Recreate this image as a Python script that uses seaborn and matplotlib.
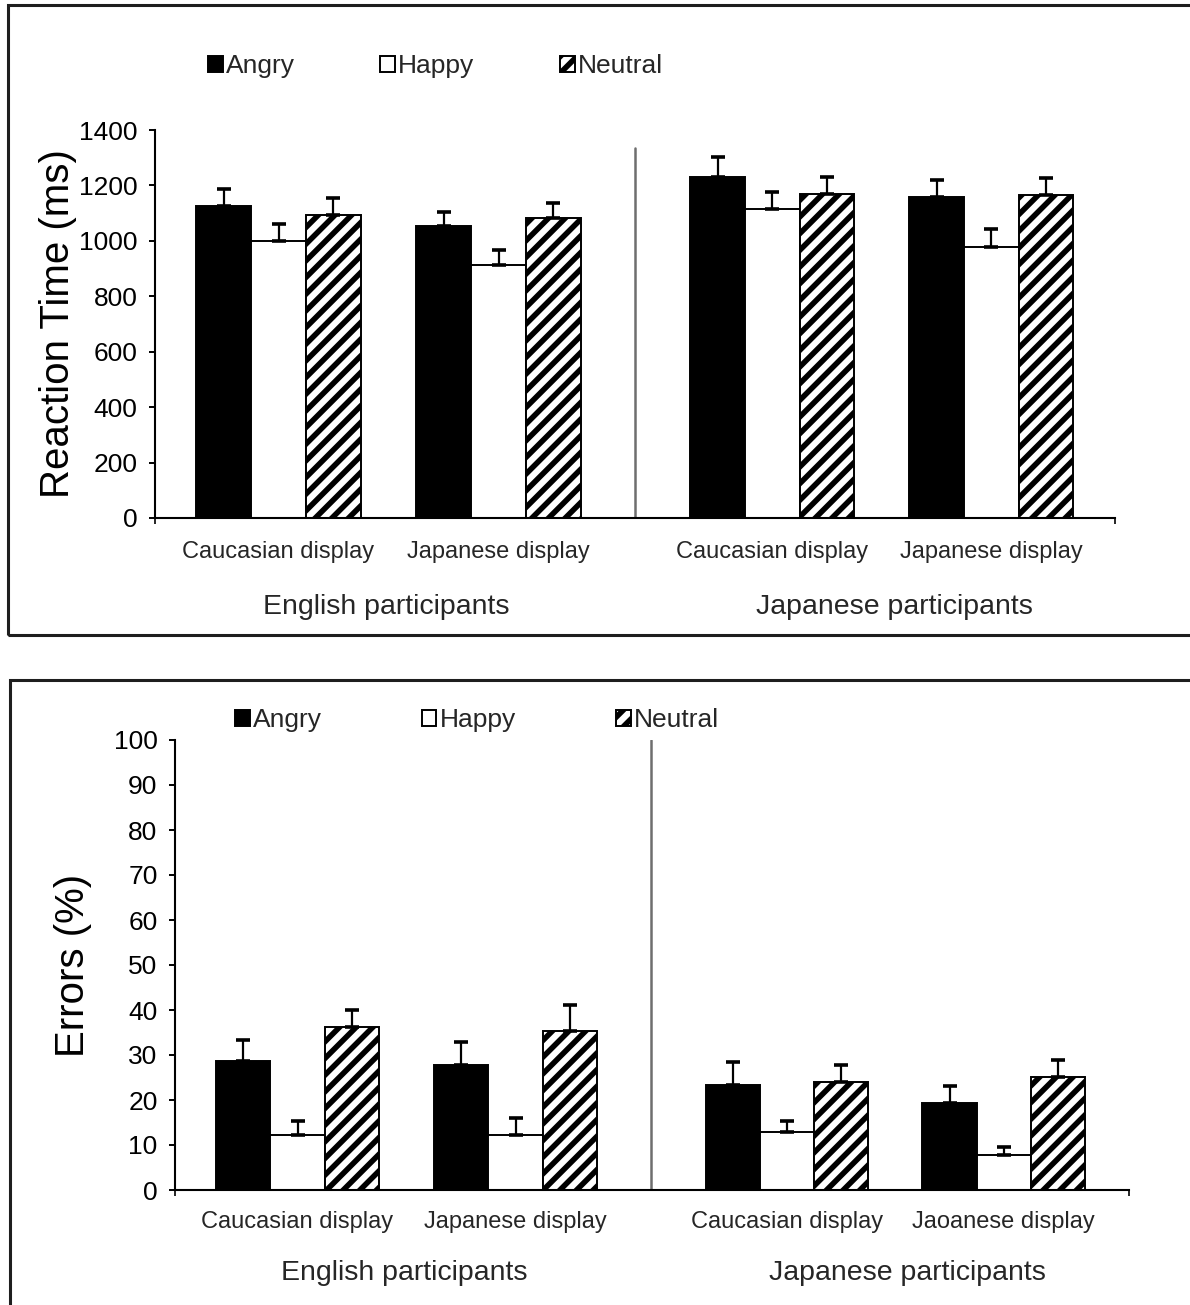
import numpy as np
import pandas as pd
import seaborn as sns
import matplotlib
matplotlib.use("Agg")
import matplotlib.pyplot as plt
from matplotlib import font_manager
from matplotlib.patches import Rectangle

# ---------------------------------------------------------------- data
emotions = ["Angry", "Happy", "Neutral"]
participant_groups = ["English participants", "Japanese participants"]
rt_displays = ["Caucasian display", "Japanese display", "Caucasian display", "Japanese display"]
err_displays = ["Caucasian display", "Japanese display", "Caucasian display", "Jaoanese display"]

# Reaction time (ms); order: Eng/Cauc, Eng/Jap, Jap/Cauc, Jap/Jap
rt_angry = [1127, 1052, 1232, 1158]
rt_happy = [998, 914, 1115, 978]
rt_neutral = [1094, 1084, 1168, 1167]
rt_se_angry = [60, 53, 72, 61]
rt_se_happy = [62, 53, 63, 63]
rt_se_neutral = [62, 52, 62, 61]

# Errors (%)
er_angry = [28.7, 27.8, 23.3, 19.4]
er_happy = [12.2, 12.2, 12.8, 7.7]
er_neutral = [36.2, 35.4, 24.1, 25.2]
er_se_angry = [4.7, 5.0, 5.1, 3.7]
er_se_happy = [3.2, 3.9, 2.6, 1.9]
er_se_neutral = [3.8, 5.8, 3.6, 3.7]

rt_ticks = [0, 200, 400, 600, 800, 1000, 1200, 1400]
er_ticks = [0, 10, 20, 30, 40, 50, 60, 70, 80, 90, 100]

# ---------------------------------------------------------------- layout
GROUP_X = [0.0, 1.0, 2.245, 3.24]          # cluster centres (wider gap between participant groups)
PARTICIPANT_X = [0.49, 2.80]
DIVIDER_X = (GROUP_X[1] + GROUP_X[2]) / 2
PALETTE = {"Angry": "black", "Happy": "white", "Neutral": "white"}

W, H = 1190, 1305
sns.set_style("ticks")


def pick_font(names):
    for n in names:
        try:
            font_manager.findfont(n, fallback_to_default=False)
            return n
        except Exception:
            continue
    return "DejaVu Sans"


NARROW = pick_font(["Liberation Sans Narrow", "Liberation Sans", "Arial"])
REGULAR = pick_font(["Liberation Sans", "Arial"])
plt.rcParams["font.family"] = [NARROW, "DejaVu Sans"]
plt.rcParams["hatch.linewidth"] = 4.0
plt.rcParams["hatch.color"] = "black"

fig = plt.figure(figsize=(W / 100, H / 100), dpi=100)


def frame_long(a, b, c, sa, sb, sc):
    rows = []
    for i in range(len(GROUP_X)):
        for e, vals, ses in zip(emotions, (a, b, c), (sa, sb, sc)):
            rows.append({"x": GROUP_X[i], "emotion": e, "value": vals[i], "se": ses[i]})
    return pd.DataFrame(rows)


def panel(rect_px, px_per_unit, df, ylim, yticks, ylabel, displays, first_group_px,
          divider_top, cat_off, grp_off, legend_px, colspace):
    l, t, r, b = rect_px
    ax = fig.add_axes([l / W, 1 - b / H, (r - l) / W, (b - t) / H])
    sns.barplot(data=df, x="x", y="value", hue="emotion", hue_order=emotions,
                native_scale=True, palette=PALETTE, edgecolor="black",
                linewidth=1.4, errorbar=None, width=0.75, legend=False, ax=ax)
    conts = dict(zip(emotions, ax.containers))
    for p in conts["Neutral"]:
        p.set_hatch("//")

    # one-sided (upper) error bars on every bar
    for e in emotions:
        sub = df[df["emotion"] == e].sort_values("x")
        xs = [p.get_x() + p.get_width() / 2 for p in conts[e]]
        ax.errorbar(xs, sub["value"].to_numpy(),
                    yerr=[np.zeros(len(sub)), sub["se"].to_numpy()],
                    fmt="none", ecolor="black", elinewidth=1.6, capsize=4.7,
                    capthick=2.6, zorder=3)

    # axis range mapped to the plotting rectangle
    x0 = (l - first_group_px) / px_per_unit
    x1 = (r - first_group_px) / px_per_unit
    ax.set_xlim(x0, x1)
    ax.set_ylim(*ylim)
    ax.set_yticks(yticks)
    ax.set_yticklabels([str(v) for v in yticks], fontsize=19)
    ax.set_xticks([x0, x1])
    ax.set_xticklabels(["", ""])
    ax.set_xlabel("")
    ax.tick_params(axis="y", direction="out", length=4, width=1.4, pad=8.6, colors="black")
    ax.tick_params(axis="x", direction="out", length=4, width=1.4)
    for s in ("top", "right"):
        ax.spines[s].set_visible(False)
    for s in ("left", "bottom"):
        ax.spines[s].set_color("black")
        ax.spines[s].set_linewidth(1.5)

    ax.axvline(DIVIDER_X, ymin=0, ymax=divider_top, color="#6e6e6e", lw=1.8)

    ax.set_ylabel(ylabel, family=REGULAR, fontsize=29, color="black")

    for gx, name in zip(GROUP_X, displays):
        ax.annotate(name, xy=(gx, 0), xycoords=("data", "axes fraction"),
                    xytext=(0, -cat_off * 0.72), textcoords="offset points",
                    ha="center", va="center", fontsize=17)
    for px, name in zip(PARTICIPANT_X, participant_groups):
        ax.annotate(name, xy=(px, 0), xycoords=("data", "axes fraction"),
                    xytext=(0, -grp_off * 0.72), textcoords="offset points",
                    ha="center", va="center", fontsize=20.5)

    handles = [conts[e].patches[0] for e in emotions]
    fig.legend(handles, emotions, loc="center left",
               bbox_to_anchor=(legend_px[0] / W, 1 - legend_px[1] / H),
               ncol=3, frameon=False, fontsize=19, handlelength=0.55,
               handleheight=0.55, handletextpad=0.12, columnspacing=colspace,
               borderpad=0, borderaxespad=0)
    return ax


df_rt = frame_long(rt_angry, rt_happy, rt_neutral, rt_se_angry, rt_se_happy, rt_se_neutral)
df_er = frame_long(er_angry, er_happy, er_neutral, er_se_angry, er_se_happy, er_se_neutral)

ax1 = panel((155, 130, 1115, 518), 220, df_rt, (0, 1400), rt_ticks, "Reaction Time (ms)",
            rt_displays, 278.5, (518 - 148) / 388, 34, 89, (208, 66), 3.25)
ax1.yaxis.set_label_coords((77 - 155) / 960, 0.5)

ax2 = panel((175, 740, 1129, 1190), 218, df_er, (0, 100), er_ticks, "Errors (%)",
            err_displays, 297.5, 1.0, 32, 83, (235, 720), 3.8)
ax2.yaxis.set_label_coords((92 - 175) / 954, 0.5)

# outer boxes around each panel (right / bottom edges run off the page)
fig.add_artist(Rectangle((8 / W, 1 - 635 / H), 1.05, (635 - 5) / H,
                         transform=fig.transFigure, fill=False, lw=2.2,
                         ec="#1e1e1e", clip_on=False))
fig.add_artist(Rectangle((10 / W, -0.05), 1.05, (1 - 680 / H) + 0.05,
                         transform=fig.transFigure, fill=False, lw=2.2,
                         ec="#1e1e1e", clip_on=False))

fig.savefig("out.png", dpi=100, facecolor="white")
